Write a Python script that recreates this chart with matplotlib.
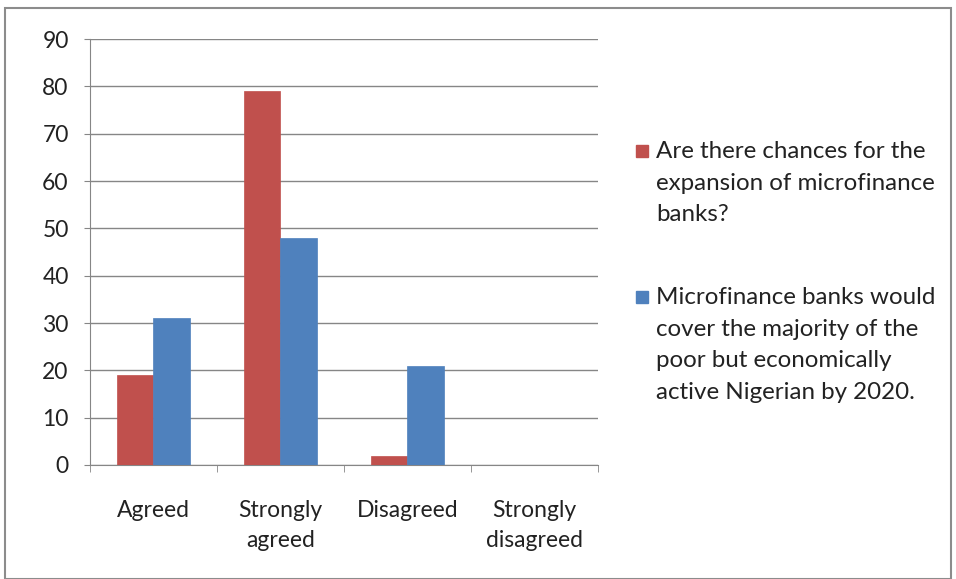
import numpy as np
import matplotlib.pyplot as plt
from matplotlib.patches import Rectangle

# Kategorier og verdier lest av figuren
kategorier = ["Agreed", "Strongly\nagreed", "Disagreed", "Strongly\ndisagreed"]
chances = [19, 79, 2, 0]
cover = [31, 48, 21, 0]
etiketter = ["Are there chances for the\nexpansion of microfinance\nbanks?",
             "Microfinance banks would\ncover the majority of the\npoor but economically\nactive Nigerian by 2020."]
farger = ["#c0504d", "#4f81bd"]

plt.rcParams['font.family'] = ['Lato', 'DejaVu Sans']

fig = plt.figure(figsize=(9.56, 5.79), dpi=100)
ax = fig.add_axes([0.0941, 0.1969, 0.5314, 0.7357])

x = np.arange(len(kategorier))
b = 1 / 3.5
ax.bar(x - b/2, chances, b, color=farger[0], edgecolor=farger[0], linewidth=0.5, zorder=3)
ax.bar(x + b/2, cover, b, color=farger[1], edgecolor=farger[1], linewidth=0.5, zorder=3)

ax.set_xlim(-0.5, 3.5)
ax.set_ylim(0, 90)
ax.set_yticks(range(0, 91, 10))
ax.set_xticks(x)
ax.set_xticklabels(kategorier, fontsize=16.5, color="#222222", linespacing=1.55)
ax.set_xticks(np.arange(-0.5, 3.6, 1), minor=True)
ax.tick_params(axis="x", which="major", length=0, pad=25)
ax.tick_params(axis="x", which="minor", length=5, color="#868686", direction="out")
ax.tick_params(axis="y", length=4.3, color="#868686", pad=11, labelsize=16.5, labelcolor="#222222")
ax.grid(axis="y", color="#868686", linewidth=1, zorder=0)
for s in ["top", "right"]:
    ax.spines[s].set_visible(False)
for s in ["left", "bottom"]:
    ax.spines[s].set_color("#868686")

# Legende tegnet for hand slik at ruten står ved første linje
W, H = 956, 579
for i, (lab, y0) in enumerate(zip(etiketter, [151, 297])):
    fig.patches.append(Rectangle((636 / W, 1 - (y0 + 6) / H), 12 / W, 12 / H,
                                 transform=fig.transFigure, color=farger[i]))
    fig.text(656 / W, 1 - (y0 - 10) / H, lab, fontsize=17.4, color="#222222",
             va="top", ha="left", linespacing=1.62)

fig.patches.append(Rectangle((0.005, 0.0), 0.99, 0.986, transform=fig.transFigure,
                             fill=False, edgecolor="#8c8c8c", linewidth=1.5))

fig.savefig("out.png", dpi=100)
